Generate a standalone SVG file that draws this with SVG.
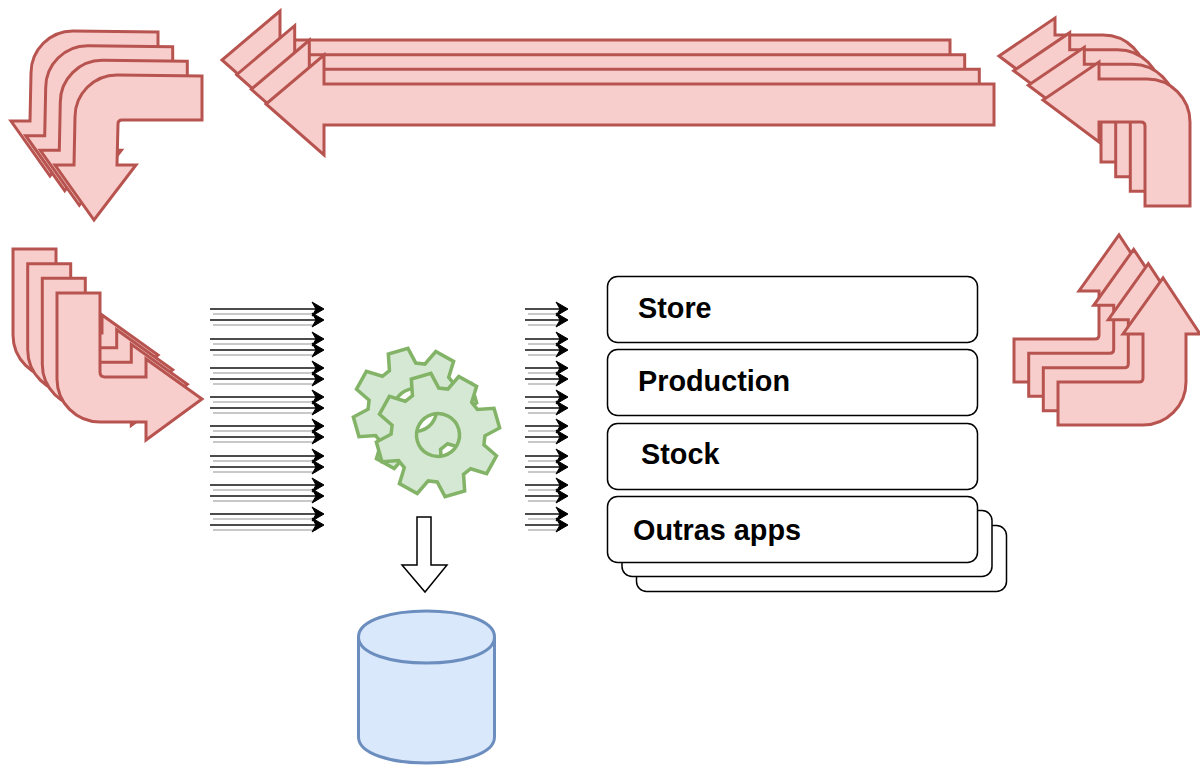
<svg xmlns="http://www.w3.org/2000/svg" width="1200" height="765" viewBox="0 0 1200 765">
<style>
.red{fill:#f8cecc;stroke:#b85450;stroke-width:3;stroke-linejoin:miter}
.gear{fill:#d5e8d4;stroke:#82b366;stroke-width:3.5;fill-rule:evenodd;stroke-linejoin:miter}
.box{fill:#fff;stroke:#000;stroke-width:1.5}
.lbl{font-family:"Liberation Sans",Arial,sans-serif;font-weight:700;font-size:28.8px;fill:#000}
.dark{stroke:#111;stroke-width:1.6;fill:none;marker-end:url(#head)}
.ghost{stroke:#c8c8c8;stroke-width:2;fill:none}
</style>
<defs>
<marker id="head" markerUnits="userSpaceOnUse" markerWidth="16" markerHeight="18" viewBox="-14 -9 16 18" refX="-6" refY="0" orient="auto">
<path d="M-12,-7 L0,0 L-12,7 L-8,0 Z" fill="#000" stroke="#000" stroke-width="1"/>
</marker>
<path id="tl" class="red" d="M202,76 L117,75 A42,42 0 0 0 75,117 L74,165 L55,165 L94,220 L136,165 L117,165 L118,124 Q118,120 122,120 L202,120 Z"/>
<path id="top" class="red" d="M994,84 L324,84 L324,55 L266,104 L324,155 L324,125 L994,125 Z"/>
<path id="tr" class="red" d="M1145,206 L1190,206 L1190,122 A43,43 0 0 0 1147,79 L1099,79 L1099,62 L1043,100 L1099,142 L1099,122 L1141,122 Q1145,122 1145,126 Z"/>
<path id="bl" class="red" d="M57,293 L100,293 L100,372 Q100,377 105,377 L146,377 L146,359 L202,399 L146,440 L146,422 L100,422 A43,43 0 0 1 57,379 Z"/>
<path id="br" class="red" d="M1058,382 L1139,382 Q1143,382 1143,378 L1143,334 L1123,334 L1163,278 L1200,334 L1186,334 L1186,382 A43,43 0 0 1 1143,425 L1058,425 Z"/>
<path id="cog" class="gear" d="M-13.7,-44.9 L-10.2,-61.2 L10.2,-61.2 L13.7,-44.9 L22.1,-41.4 L36.1,-50.5 L50.5,-36.1 L41.4,-22.1 L44.9,-13.7 L61.2,-10.2 L61.2,10.2 L44.9,13.7 L41.4,22.1 L50.5,36.1 L36.1,50.5 L22.1,41.4 L13.7,44.9 L10.2,61.2 L-10.2,61.2 L-13.7,44.9 L-22.1,41.4 L-36.1,50.5 L-50.5,36.1 L-41.4,22.1 L-44.9,13.7 L-61.2,10.2 L-61.2,-10.2 L-44.9,-13.7 L-41.4,-22.1 L-50.5,-36.1 L-36.1,-50.5 L-22.1,-41.4 Z M21.500,0 A21.500,21.500 0 1 0 -21.500,0 A21.500,21.500 0 1 0 21.500,0 Z"/>
<g id="pairL">
<line class="ghost" x1="213" y1="5" x2="316" y2="5"/><line class="ghost" x1="213" y1="16" x2="316" y2="16"/>
<line class="dark" x1="210" y1="0" x2="318" y2="0"/><line class="dark" x1="210" y1="11" x2="318" y2="11"/>
</g>
<g id="pairR">
<line class="ghost" x1="528" y1="5" x2="560" y2="5"/><line class="ghost" x1="528" y1="16" x2="560" y2="16"/>
<line class="dark" x1="525" y1="0" x2="562" y2="0"/><line class="dark" x1="525" y1="11" x2="562" y2="11"/>
</g>
</defs>

<g id="arrow-top-left">
<use href="#tl" x="-44" y="-44"/><use href="#tl" x="-29.3" y="-29.3"/><use href="#tl" x="-14.7" y="-14.7"/><use href="#tl"/>
</g>
<g id="arrow-top">
<use href="#top" x="-44" y="-44"/><use href="#top" x="-29.3" y="-29.3"/><use href="#top" x="-14.7" y="-14.7"/><use href="#top"/>
</g>
<g id="arrow-top-right">
<use href="#tr" x="-44" y="-44"/><use href="#tr" x="-29.3" y="-29.3"/><use href="#tr" x="-14.7" y="-14.7"/><use href="#tr"/>
</g>
<g id="arrow-bottom-left">
<use href="#bl" x="-44" y="-44"/><use href="#bl" x="-29.3" y="-29.3"/><use href="#bl" x="-14.7" y="-14.7"/><use href="#bl"/>
</g>
<g id="arrow-bottom-right">
<use href="#br" x="-44" y="-43"/><use href="#br" x="-29.3" y="-28.7"/><use href="#br" x="-14.7" y="-14.3"/><use href="#br"/>
</g>

<g id="connectors">
<use href="#pairL" y="309"/><use href="#pairL" y="339"/><use href="#pairL" y="368"/><use href="#pairL" y="397"/><use href="#pairL" y="426"/><use href="#pairL" y="456"/><use href="#pairL" y="485"/><use href="#pairL" y="514"/>
<use href="#pairR" y="309"/><use href="#pairR" y="339"/><use href="#pairR" y="368"/><use href="#pairR" y="397"/><use href="#pairR" y="426"/><use href="#pairR" y="456"/><use href="#pairR" y="485"/><use href="#pairR" y="514"/>
</g>

<g id="gears">
<use href="#cog" transform="translate(415 410) rotate(-16)"/>
<use href="#cog" transform="translate(438 435) rotate(-16)"/>
</g>

<g id="down-arrow">
<path d="M417,517 L431,517 L431,565 L447,565 L425,592 L402,565 L417,565 Z" fill="#fff" stroke="#000" stroke-width="1.5"/>
</g>

<g id="database">
<path d="M358.500,637 C358.500,602.300 494.500,602.300 494.500,637 L494.500,737 C494.500,771.700 358.500,771.700 358.500,737 Z" fill="#dae8fc" stroke="#6c8ebf" stroke-width="3"/>
<path d="M358.500,637 C358.500,671.700 494.500,671.700 494.500,637" fill="none" stroke="#6c8ebf" stroke-width="3"/>
</g>

<g id="box-stack-3"><rect class="box" x="636.500" y="525.500" width="370" height="66" rx="10"/></g>
<g id="box-stack-2"><rect class="box" x="622" y="510.500" width="370" height="66" rx="10"/></g>
<g id="box-store"><rect class="box" x="607.500" y="276.500" width="370" height="66" rx="10"/><text class="lbl" x="638" y="318">Store</text></g>
<g id="box-production"><rect class="box" x="607.500" y="349.500" width="370" height="66" rx="10"/><text class="lbl" x="638" y="391">Production</text></g>
<g id="box-stock"><rect class="box" x="607.500" y="423.500" width="370" height="66" rx="10"/><text class="lbl" x="641" y="464">Stock</text></g>
<g id="box-outras"><rect class="box" x="607.500" y="496.500" width="370" height="66" rx="10"/><text class="lbl" x="633" y="540">Outras apps</text></g>
</svg>
